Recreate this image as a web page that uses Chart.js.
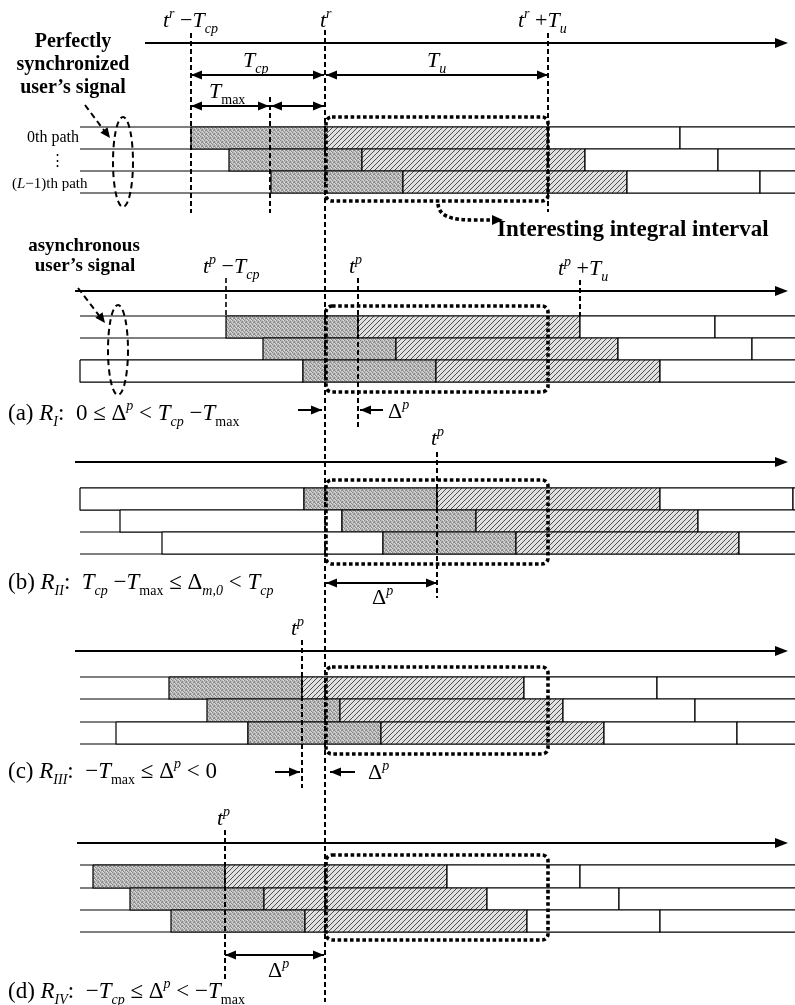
<!DOCTYPE html>
<html>
<head>
<meta charset="utf-8">
<title>Integral interval cases</title>
<script src="https://cdn.jsdelivr.net/npm/chart.js@4.4.1/dist/chart.umd.min.js"></script>
<style>
  html, body { margin: 0; padding: 0; background: #fff; }
  canvas { display: block; }
</style>
</head>
<body>
<canvas id="diagram" width="795" height="1005"></canvas>
<script>
// time values are offsets from t^r (diagram units, Tcp ~ 133, Tu ~ 223, Tmax ~ 79)
// each path: [kind, start, end]  g = cyclic prefix, h = useful part, w = other symbol
const syncPaths = [
  [['g', -134, 0], ['h', 0, 223], ['w', 223, 355], ['w', 355, 505]],
  [['g', -96, 37], ['h', 37, 260], ['w', 260, 393], ['w', 393, 525]],
  [['g', -54, 78], ['h', 78, 302], ['w', 302, 435], ['w', 435, 565]]
];
const caseAPaths = [
  [['g', -99, 33], ['h', 33, 255], ['w', 255, 390], ['w', 390, 525]],
  [['g', -62, 71], ['h', 71, 293], ['w', 293, 427], ['w', 427, 565]],
  [['w', -245, -22], ['g', -22, 111], ['h', 111, 335], ['w', 335, 575]]
];
const caseBPaths = [
  [['w', -245, -21], ['g', -21, 112], ['h', 112, 335], ['w', 335, 468], ['w', 468, 575]],
  [['w', -205, 17], ['g', 17, 151], ['h', 151, 373], ['w', 373, 575]],
  [['w', -163, 58], ['g', 58, 191], ['h', 191, 414], ['w', 414, 575]]
];
const caseCPaths = [
  [['g', -156, -23], ['h', -23, 199], ['w', 199, 332], ['w', 332, 575]],
  [['g', -118, 15], ['h', 15, 238], ['w', 238, 370], ['w', 370, 575]],
  [['w', -209, -77], ['g', -77, 56], ['h', 56, 279], ['w', 279, 412], ['w', 412, 575]]
];
const caseDPaths = [
  [['g', -232, -100], ['h', -100, 122], ['w', 122, 255], ['w', 255, 575]],
  [['g', -195, -61], ['h', -61, 162], ['w', 162, 294], ['w', 294, 575]],
  [['g', -154, -20], ['h', -20, 202], ['w', 202, 335], ['w', 335, 575]]
];

// time markers (dashed lines)
const syncMarks = [-134, -55, 223];      // t^r - Tcp, Tmax, t^r + Tu
const caseAMarks = [-99, 33, 255];       // t^p - Tcp, t^p, t^p + Tu
const casePMarks = [112, -23, -100];     // t^p for (b), (c), (d)
const intervalEnd = 223;                 // t^r + Tu

// vertical layout of the five panels
const panelLanes = [
  [127, 149, 171, 193], [316, 338, 360, 382], [488, 510, 532, 554],
  [677, 699, 722, 744], [865, 888, 910, 932]
];
const panelAxisY = [43, 291, 462, 651, 843];
const panelAxisStart = [-180, -250, -250, -250, -248];
const panelBoxY = [[117, 201], [306, 392], [480, 564], [667, 754], [855, 940]];
const lineStart = -245, lineEnd = 575;

//hàm tạo mẫu tô
function makePattern(size, paint) {
  const tile = document.createElement('canvas');
  tile.width = size; tile.height = size;
  paint(tile.getContext('2d'));
  return document.createElement('canvas').getContext('2d').createPattern(tile, 'repeat');
}
const grayFill = makePattern(4, g => {
  g.fillStyle = '#b9b9b9'; g.fillRect(0, 0, 4, 4);
  g.fillStyle = '#8a8a8a';
  [[0, 0], [2, 1], [1, 2], [3, 3], [2, 2]].forEach(([x, y]) => g.fillRect(x, y, 1, 1));
  g.fillStyle = '#dcdcdc';
  [[2, 3], [0, 2], [3, 0]].forEach(([x, y]) => g.fillRect(x, y, 1, 1));
});
const hatchFill = makePattern(5, g => {
  g.fillStyle = '#e0e0e0'; g.fillRect(0, 0, 5, 5);
  g.strokeStyle = '#505050'; g.lineWidth = 1;
  g.beginPath();
  g.moveTo(0, 5); g.lineTo(5, 0);
  g.moveTo(-1, 1); g.lineTo(1, -1);
  g.moveTo(4, 6); g.lineTo(6, 4);
  g.stroke();
});
const fills = { g: grayFill, h: hatchFill, w: '#ffffff' };

function lineSet(points, width, dash) {
  return {
    data: points.map(([x, y]) => ({ x, y })),
    borderColor: '#000', borderWidth: width, borderDash: dash || [],
    pointRadius: 0, pointHoverRadius: 0, fill: false, tension: 0
  };
}
function rectSet(a, b, top, bot, bg) {
  return {
    data: [{ x: a, y: top }, { x: b, y: top }, { x: b, y: bot }, { x: a, y: bot }, { x: a, y: top }],
    borderColor: '#000', borderWidth: 1.2, borderJoinStyle: 'miter',
    pointRadius: 0, pointHoverRadius: 0, fill: 'shape', backgroundColor: bg, tension: 0
  };
}

// datasets listed bottom to top, reversed below
const layers = [];
[syncPaths, caseAPaths, caseBPaths, caseCPaths, caseDPaths].forEach((paths, p) => {
  const lanes = panelLanes[p];
  lanes.forEach(y => layers.push(lineSet([[lineStart, y], [lineEnd, y]], 1.2)));
  paths.forEach((segs, r) => {
    segs.forEach(([kind, a, b]) => layers.push(rectSet(a, b, lanes[r], lanes[r + 1], fills[kind])));
  });
  layers.push(lineSet([[panelAxisStart[p], panelAxisY[p]], [455, panelAxisY[p]]], 2.2));
});
const dash = [5, 3];
layers.push(lineSet([[0, 30], [0, 1002]], 2, dash));
layers.push(lineSet([[syncMarks[0], 33], [syncMarks[0], 213]], 2, dash));
layers.push(lineSet([[syncMarks[1], 97], [syncMarks[1], 213]], 2, dash));
layers.push(lineSet([[syncMarks[2], 33], [syncMarks[2], 212]], 2, dash));
layers.push(lineSet([[caseAMarks[0], 278], [caseAMarks[0], 316]], 1.6, dash));
layers.push(lineSet([[caseAMarks[1], 278], [caseAMarks[1], 430]], 2, dash));
layers.push(lineSet([[caseAMarks[2], 280], [caseAMarks[2], 316]], 2, dash));
layers.push(lineSet([[casePMarks[0], 452], [casePMarks[0], 598]], 2, dash));
layers.push(lineSet([[casePMarks[1], 640], [casePMarks[1], 788]], 2, dash));
layers.push(lineSet([[casePMarks[2], 830], [casePMarks[2], 982]], 2, dash));

const FAM = '"Liberation Serif", "Times New Roman", "DejaVu Serif", serif';

//hàm vẽ chữ có chỉ số trên/dưới
function drawRich(ctx, x, y, parts, size, align) {
  const small = Math.round(size * 0.62);
  const items = parts.map(([s, m]) => {
    let font = `${size}px ${FAM}`, dy = 0;
    if (m === 'i') font = `italic ${size}px ${FAM}`;
    if (m === 'b') font = `bold ${size}px ${FAM}`;
    if (m === 'si') { font = `italic ${small}px ${FAM}`; dy = size * 0.27; }
    if (m === 'sn') { font = `${small}px ${FAM}`; dy = size * 0.27; }
    if (m === 'pi') { font = `italic ${small}px ${FAM}`; dy = -size * 0.42; }
    ctx.font = font;
    return { s, font, dy, w: ctx.measureText(s).width };
  });
  const total = items.reduce((t, it) => t + it.w, 0);
  let cx = align === 'center' ? x - total / 2 : x;
  ctx.textAlign = 'left';
  ctx.textBaseline = 'alphabetic';
  items.forEach(it => {
    ctx.font = it.font;
    ctx.fillText(it.s, cx, y + it.dy);
    cx += it.w;
  });
}

function head(ctx, tx, ty, ang, len, half) {
  ctx.beginPath();
  ctx.moveTo(tx, ty);
  ctx.lineTo(tx - len * Math.cos(ang) + half * Math.sin(ang), ty - len * Math.sin(ang) - half * Math.cos(ang));
  ctx.lineTo(tx - len * Math.cos(ang) - half * Math.sin(ang), ty - len * Math.sin(ang) + half * Math.cos(ang));
  ctx.closePath();
  ctx.fill();
}
function arrow(ctx, x0, y0, x1, y1, both, width) {
  const ang = Math.atan2(y1 - y0, x1 - x0);
  ctx.lineWidth = width || 2;
  ctx.beginPath(); ctx.moveTo(x0, y0); ctx.lineTo(x1, y1); ctx.stroke();
  head(ctx, x1, y1, ang, 11, 4.5);
  if (both) head(ctx, x0, y0, ang + Math.PI, 11, 4.5);
}

const overlay = {
  id: 'overlay',
  afterDatasetsDraw(chart) {
    const ctx = chart.ctx;
    const X = v => chart.scales.x.getPixelForValue(v);
    const Y = v => chart.scales.y.getPixelForValue(v);
    ctx.save();
    ctx.fillStyle = '#000';
    ctx.strokeStyle = '#000';

    // axis arrow heads
    panelAxisY.forEach(y => head(ctx, X(463), Y(y), 0, 13, 5));

    // interesting integral interval boxes
    ctx.lineWidth = 3.6;
    ctx.setLineDash([3.6, 2.6]);
    panelBoxY.forEach(([t, b]) => {
      ctx.beginPath();
      ctx.roundRect(X(1), Y(t), X(intervalEnd) - X(1), Y(b) - Y(t), 6);
      ctx.stroke();
    });
    // curved pointer to the caption
    ctx.beginPath();
    ctx.moveTo(X(113), Y(204));
    ctx.bezierCurveTo(X(114), Y(216), X(125), Y(220), X(150), Y(220));
    ctx.lineTo(X(166), Y(220));
    ctx.stroke();
    ctx.setLineDash([]);
    head(ctx, X(178), Y(220), 0, 11, 5);

    // user signal ellipses and dashed pointers
    ctx.lineWidth = 2;
    ctx.setLineDash([6, 4]);
    [[-202, 162], [-207, 350]].forEach(([cx, cy]) => {
      ctx.beginPath();
      ctx.ellipse(X(cx), Y(cy), 10, 45, 0, 0, Math.PI * 2);
      ctx.stroke();
    });
    ctx.beginPath();
    ctx.moveTo(X(-240), Y(105)); ctx.lineTo(X(-219), Y(133));
    ctx.moveTo(X(-247), Y(288)); ctx.lineTo(X(-224), Y(318));
    ctx.stroke();
    ctx.setLineDash([]);
    head(ctx, X(-215), Y(138), Math.atan2(33, 25), 10, 4.5);
    head(ctx, X(-220), Y(323), Math.atan2(34, 26), 10, 4.5);

    // duration arrows
    arrow(ctx, X(-134), Y(75), X(-1), Y(75), true);
    arrow(ctx, X(1), Y(75), X(223), Y(75), true);
    arrow(ctx, X(-134), Y(106), X(-56), Y(106), true);
    arrow(ctx, X(-54), Y(106), X(-1), Y(106), true);
    arrow(ctx, X(-27), Y(410), X(-3), Y(410), false);
    arrow(ctx, X(58), Y(410), X(35), Y(410), false);
    arrow(ctx, X(1), Y(583), X(112), Y(583), true);
    arrow(ctx, X(-50), Y(772), X(-25), Y(772), false);
    arrow(ctx, X(30), Y(772), X(5), Y(772), false);
    arrow(ctx, X(-100), Y(955), X(-1), Y(955), true);

    // texts
    ctx.fillStyle = '#000';
    const t = (x, y, parts, size, align) => drawRich(ctx, X(x), Y(y), parts, size, align);
    t(-252, 47, [['Perfectly', 'b']], 20, 'center');
    t(-252, 70, [['synchronized', 'b']], 20, 'center');
    t(-252, 93, [['user\u2019s signal', 'b']], 20, 'center');
    t(-298, 142, [['0th path', 'n']], 16);
    t(-268, 165, [['\u22EE', 'n']], 15, 'center');
    t(-313, 188, [['(', 'n'], ['L', 'i'], ['\u22121)th path', 'n']], 15);
    t(-241, 251, [['asynchronous', 'b']], 19, 'center');
    t(-240, 271, [['user\u2019s signal', 'b']], 19, 'center');
    t(172, 236, [['Interesting integral interval', 'b']], 23);

    t(-162, 27, [['t', 'i'], ['r', 'pi'], [' \u2212', 'n'], ['T', 'i'], ['cp', 'si']], 22);
    t(-5, 27, [['t', 'i'], ['r', 'pi']], 22);
    t(193, 27, [['t', 'i'], ['r', 'pi'], [' +', 'n'], ['T', 'i'], ['u', 'si']], 22);
    t(-82, 67, [['T', 'i'], ['cp', 'si']], 22);
    t(102, 67, [['T', 'i'], ['u', 'si']], 22);
    t(-116, 98, [['T', 'i'], ['max', 'sn']], 22);

    t(-122, 273, [['t', 'i'], ['p', 'pi'], [' \u2212', 'n'], ['T', 'i'], ['cp', 'si']], 22);
    t(24, 273, [['t', 'i'], ['p', 'pi']], 22);
    t(233, 275, [['t', 'i'], ['p', 'pi'], [' +', 'n'], ['T', 'i'], ['u', 'si']], 22);
    t(106, 445, [['t', 'i'], ['p', 'pi']], 22);
    t(-34, 635, [['t', 'i'], ['p', 'pi']], 22);
    t(-108, 825, [['t', 'i'], ['p', 'pi']], 22);

    t(-317, 420, [['(a) ', 'n'], ['R', 'i'], ['I', 'si'], [':  0 \u2264 \u0394', 'n'], ['p', 'pi'], [' < ', 'n'],
      ['T', 'i'], ['cp', 'si'], [' \u2212', 'n'], ['T', 'i'], ['max', 'sn']], 23);
    t(63, 418, [['\u0394', 'n'], ['p', 'pi']], 22);
    t(-317, 589, [['(b) ', 'n'], ['R', 'i'], ['II', 'si'], [':  ', 'n'], ['T', 'i'], ['cp', 'si'], [' \u2212', 'n'],
      ['T', 'i'], ['max', 'sn'], [' \u2264 \u0394', 'n'], ['m,0', 'si'], [' < ', 'n'], ['T', 'i'], ['cp', 'si']], 23);
    t(47, 604, [['\u0394', 'n'], ['p', 'pi']], 22);
    t(-317, 778, [['(c) ', 'n'], ['R', 'i'], ['III', 'si'], [':  \u2212', 'n'], ['T', 'i'], ['max', 'sn'],
      [' \u2264 \u0394', 'n'], ['p', 'pi'], [' < 0', 'n']], 23);
    t(43, 779, [['\u0394', 'n'], ['p', 'pi']], 22);
    t(-317, 998, [['(d) ', 'n'], ['R', 'i'], ['IV', 'si'], [':  \u2212', 'n'], ['T', 'i'], ['cp', 'si'],
      [' \u2264 \u0394', 'n'], ['p', 'pi'], [' < \u2212', 'n'], ['T', 'i'], ['max', 'sn']], 23);
    t(-57, 977, [['\u0394', 'n'], ['p', 'pi']], 22);
    ctx.restore();
  }
};

new Chart(document.getElementById('diagram').getContext('2d'), {
  type: 'line',
  data: { datasets: layers.slice().reverse() },
  options: {
    responsive: false,
    animation: false,
    events: [],
    layout: { padding: 0 },
    plugins: { legend: { display: false }, tooltip: { enabled: false } },
    scales: {
      x: { type: 'linear', min: -325, max: 470, display: false },
      y: { type: 'linear', min: 0, max: 1005, reverse: true, display: false }
    }
  },
  plugins: [overlay]
});
</script>
</body>
</html>
